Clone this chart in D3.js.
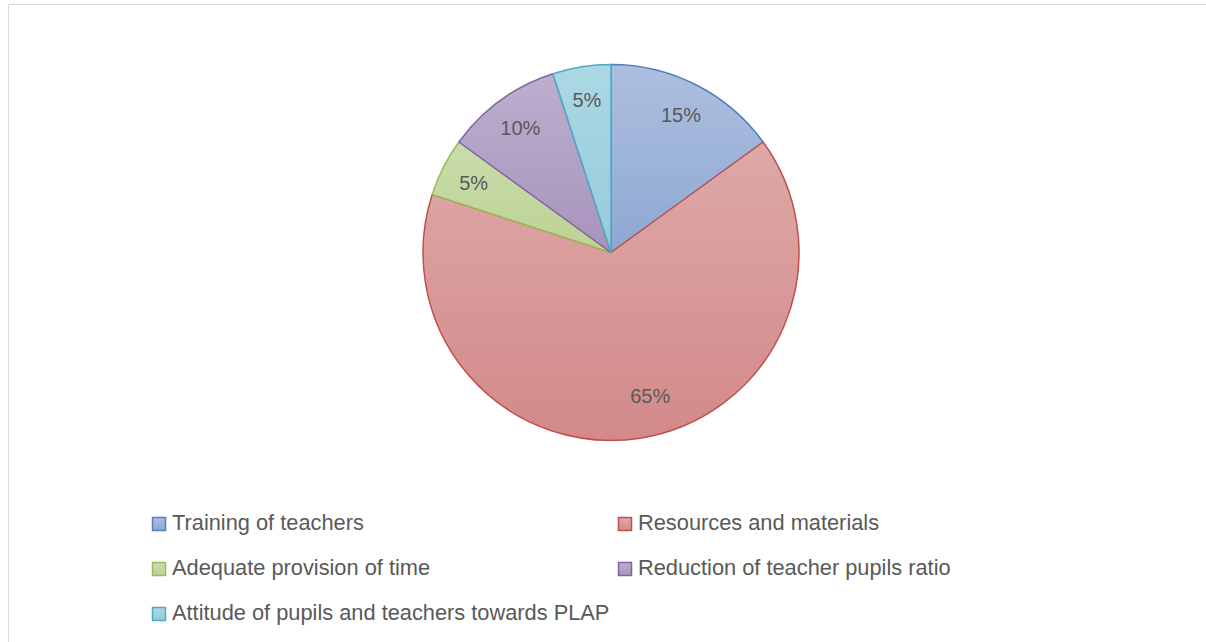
<!DOCTYPE html>
<html><head><meta charset="utf-8">
<script src="https://cdn.jsdelivr.net/npm/d3@7"></script>
<style>body{margin:0;background:#fff}svg{display:block}</style>
</head><body><svg id="c" width="1206" height="642"></svg>
<script>
const categories = ["Training of teachers","Resources and materials","Adequate provision of time","Reduction of teacher pupils ratio","Attitude of pupils and teachers towards PLAP"];
const values = [15, 65, 5, 10, 5];
const labels = ["15%","65%","5%","10%","5%"];
const strokeColors = ["#4F81BD","#C0504D","#9BBB59","#8064A2","#4BACC6"];
const fillTop = ["#adbfdf","#dda9a7","#cadcad","#bcafce","#abd8e4"];
const fillBottom = ["#8ea8d2","#d3898a","#bcd295","#a893bd","#96cbda"];

const svg = d3.select("#c");
const font = "'Liberation Sans', Arial, sans-serif";

// chart area border
svg.append("path").attr("d","M8.5,642 V4.5 H1206").attr("fill","none").attr("stroke","#d9d9d9").attr("stroke-width",1);

const cx = 611, cy = 252.5, R = 188;
const defs = svg.append("defs");
categories.forEach((c,i)=>{
  const g = defs.append("linearGradient").attr("id","g"+i).attr("x1",0).attr("y1",0).attr("x2",0).attr("y2",1);
  g.append("stop").attr("offset","0").attr("stop-color",fillTop[i]);
  g.append("stop").attr("offset","1").attr("stop-color",fillBottom[i]);
});

const pie = d3.pie().sort(null).value(d=>d);
const arcs = pie(values);
const arc = d3.arc().innerRadius(0).outerRadius(R);
const labelArc = d3.arc().innerRadius(R*0.82).outerRadius(R*0.82);

const g = svg.append("g").attr("transform",`translate(${cx},${cy})`);
g.selectAll("path.s").data(arcs).enter().append("path")
  .attr("d",arc).attr("fill",(d,i)=>`url(#g${i})`)
  .attr("stroke",(d,i)=>strokeColors[i]).attr("stroke-width",1.5).attr("stroke-linejoin","round");

g.selectAll("text.l").data(arcs).enter().append("text")
  .attr("transform",(d,i)=>{
    let [x,y] = labelArc.centroid(d);
    if(i===1){ const a=(d.startAngle+d.endAngle)/2 - 0.11; x=Math.sin(a)*R*0.79; y=-Math.cos(a)*R*0.79; }
    return `translate(${x},${y})`;
  })
  .attr("text-anchor","middle").attr("dy","0.35em")
  .attr("font-family",font).attr("font-size",20).attr("fill","#595959")
  .text((d,i)=>labels[i]);

// legend
const lx = [152, 618], ly0 = 517, ldy = 45, ms = 13;
const lg = svg.append("g");
categories.forEach((c,i)=>{
  const col = i%2, row = Math.floor(i/2);
  const x = lx[col], y = ly0 + row*ldy;
  lg.append("rect").attr("x",x+0.5).attr("y",y+0.5).attr("width",ms).attr("height",ms)
    .attr("fill",`url(#g${i})`).attr("stroke",strokeColors[i]).attr("stroke-width",1.5);
  lg.append("text").attr("x",x+20).attr("y",y+ms).attr("font-family",font).attr("font-size",21.8)
    .attr("fill","#595959").text(c);
});
</script></body></html>
